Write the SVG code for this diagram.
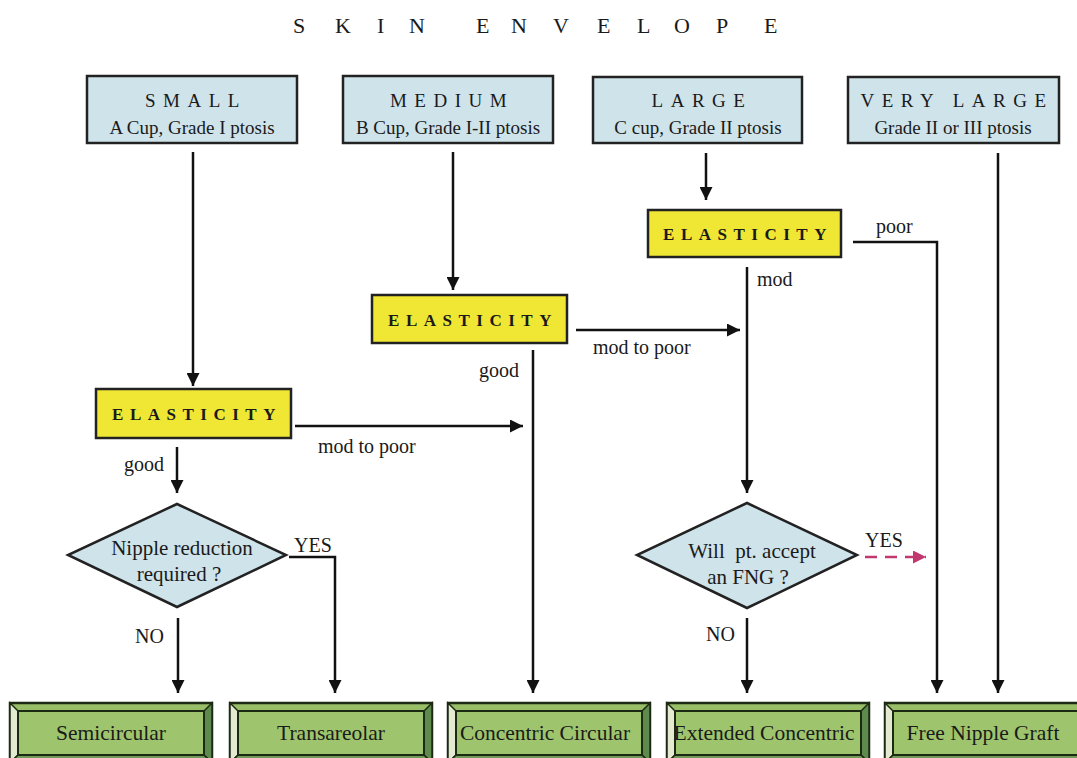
<svg xmlns="http://www.w3.org/2000/svg" xmlns:xlink="http://www.w3.org/1999/xlink" width="1077" height="758" viewBox="0 0 1077 758">
<style>
text{font-family:"Liberation Serif","Times New Roman",serif;fill:#1a1a1a}
.title{font-size:22px}
.hd{font-size:19px;letter-spacing:7.5px;text-anchor:middle}
.sub{font-size:19px;text-anchor:middle}
.el{font-size:17px;font-weight:bold;letter-spacing:6.5px;text-anchor:middle}
.lbl{font-size:20px}
.dt{font-size:21px;text-anchor:middle;white-space:pre}
.bt{font-size:21.5px;text-anchor:middle}
.blue{fill:#cfe3ea;stroke:#222;stroke-width:2.5}
.yel{fill:#f0e634;stroke:#222;stroke-width:2.5}
.conn path{fill:none;stroke:#111;stroke-width:2.5}
.conn path.ar{marker-end:url(#ah)}
.conn path.dash{stroke:#c2386e;stroke-dasharray:12 8;marker-end:url(#ahp)}
</style>
<defs>
<marker id="ah" viewBox="0 0 12 12" refX="12" refY="6" markerWidth="13" markerHeight="13" markerUnits="userSpaceOnUse" orient="auto">
<path d="M0,0 L12,6 L0,12 z" fill="#111"/>
</marker>
<marker id="ahp" viewBox="0 0 12 12" refX="12" refY="6" markerWidth="13" markerHeight="13" markerUnits="userSpaceOnUse" orient="auto">
<path d="M0,0 L12,6 L0,12 z" fill="#c2386e"/>
</marker>
<g id="bevel">
<rect x="0" y="0" width="202" height="60" fill="#98bf68" stroke="#1c2a14" stroke-width="2.5"/>
<polygon points="0,0 8,8 8,52 0,60" fill="#e4ead0" stroke="#1c2a14" stroke-width="1.5"/>
<polygon points="202,0 194,8 194,52 202,60" fill="#5e8b4d" stroke="#1c2a14" stroke-width="1.5"/>
<polygon points="0,60 8,52 194,52 202,60" fill="#6f9a58" stroke="#1c2a14" stroke-width="1.5"/>
<rect x="8" y="8" width="186" height="44" fill="#9ec56d" stroke="#1c2a14" stroke-width="2"/>
</g>
</defs>
<rect width="1077" height="758" fill="#ffffff"/>

<text class="title" x="293 335 377 409 440 476 511 553 597 637 674 716 764" y="33">SKIN ENVELOPE</text>

<g id="small">
<rect class="blue" x="87" y="76" width="210" height="67"/>
<text class="hd" x="196" y="107">SMALL</text>
<text class="sub" x="192" y="134">A Cup, Grade I ptosis</text>
</g>
<g id="medium">
<rect class="blue" x="343" y="76" width="210" height="67"/>
<text class="hd" x="452" y="107">MEDIUM</text>
<text class="sub" x="448" y="134">B Cup, Grade I-II ptosis</text>
</g>
<g id="large">
<rect class="blue" x="593" y="77" width="209" height="66"/>
<text class="hd" x="702" y="107">LARGE</text>
<text class="sub" x="698" y="134">C cup, Grade II ptosis</text>
</g>
<g id="verylarge">
<rect class="blue" x="848" y="77" width="211" height="66"/>
<text class="hd" x="957" y="107">VERY LARGE</text>
<text class="sub" x="953" y="134">Grade II or III ptosis</text>
</g>

<g id="elasticity3">
<rect class="yel" x="648" y="210" width="193" height="47"/>
<text class="el" x="748" y="240">ELASTICITY</text>
</g>
<g id="elasticity2">
<rect class="yel" x="372" y="295" width="195" height="48"/>
<text class="el" x="473" y="326">ELASTICITY</text>
</g>
<g id="elasticity1">
<rect class="yel" x="96" y="389" width="195" height="49"/>
<text class="el" x="197" y="420">ELASTICITY</text>
</g>

<g id="nipple">
<polygon class="blue" points="177,504 286,555 177,607 68,555"/>
<text class="dt" x="182" y="555">Nipple reduction</text>
<text class="dt" x="179" y="581">required ?</text>
</g>
<g id="fng">
<polygon class="blue" points="747,503 857,555 747,608 637,555"/>
<text class="dt" x="752" y="558">Will  pt. accept</text>
<text class="dt" x="748" y="584">an FNG ?</text>
</g>

<g id="semicircular">
<use xlink:href="#bevel" href="#bevel" x="10" y="703"/>
<text class="bt" x="111" y="740">Semicircular</text>
</g>
<g id="transareolar">
<use xlink:href="#bevel" href="#bevel" x="230" y="703"/>
<text class="bt" x="331" y="740">Transareolar</text>
</g>
<g id="concentric">
<use xlink:href="#bevel" href="#bevel" x="448" y="703"/>
<text class="bt" x="545" y="740">Concentric Circular</text>
</g>
<g id="extended">
<use xlink:href="#bevel" href="#bevel" x="667" y="703"/>
<text class="bt" x="764" y="740">Extended Concentric</text>
</g>
<g id="fng-graft">
<use xlink:href="#bevel" href="#bevel" x="885" y="703"/>
<text class="bt" x="983" y="740">Free Nipple Graft</text>
</g>

<g id="connectors" class="conn">
<path class="ar" d="M193,152 V386"/>
<path class="ar" d="M453,152 V290"/>
<path class="ar" d="M706,153 V200"/>
<path class="ar" d="M853,242 H937 V693"/>
<path class="ar" d="M998,153 V693"/>
<path class="ar" d="M747,267 V493"/>
<path class="ar" d="M576,330 H740"/>
<path class="ar" d="M533,350 V693"/>
<path class="ar" d="M295,426 H523"/>
<path class="ar" d="M177,447 V493"/>
<path class="ar" d="M289,557 H335 V693"/>
<path class="ar" d="M178,618 V693"/>
<path class="ar" d="M747,618 V693"/>
<path class="dash" d="M865,557 H926"/>
</g>

<g id="labels">
<text class="lbl" x="876" y="233">poor</text>
<text class="lbl" x="757" y="286">mod</text>
<text class="lbl" x="593" y="354">mod to poor</text>
<text class="lbl" x="479" y="377">good</text>
<text class="lbl" x="318" y="453">mod to poor</text>
<text class="lbl" x="124" y="471">good</text>
<text class="lbl" x="294" y="552">YES</text>
<text class="lbl" x="135" y="643">NO</text>
<text class="lbl" x="865" y="547">YES</text>
<text class="lbl" x="706" y="641">NO</text>
</g>
</svg>
